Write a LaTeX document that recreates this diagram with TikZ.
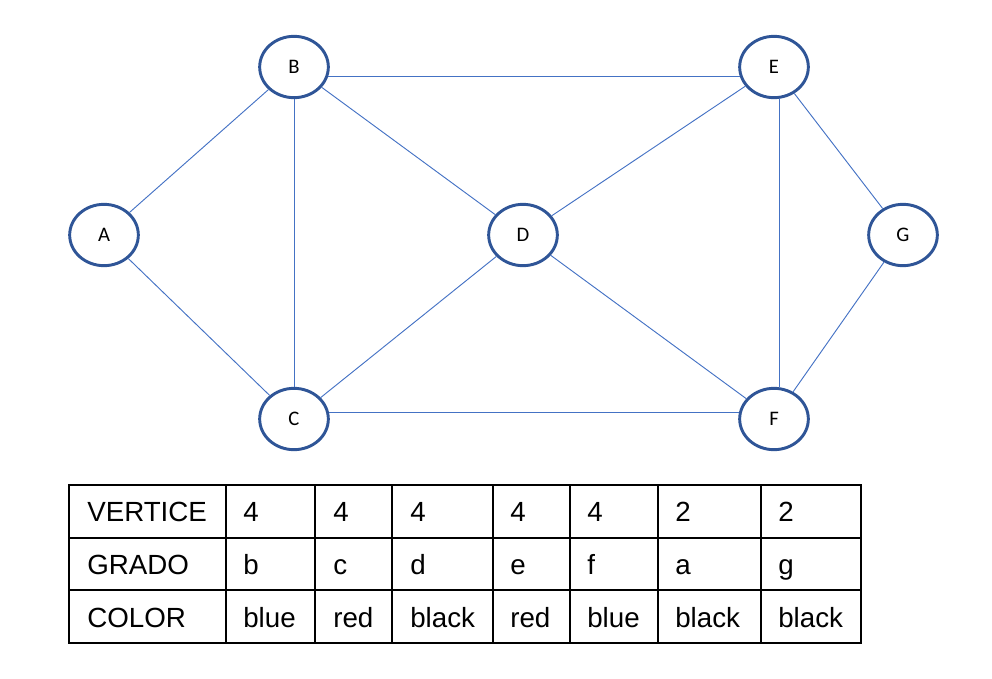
\documentclass[tikz,border=0pt]{standalone}
\usepackage{fontspec}
\setmainfont{Liberation Sans}
\newfontfamily\vertexfont{Carlito}
\usetikzlibrary{shapes.geometric}
\definecolor{vborder}{HTML}{2F5597}
\definecolor{edgeblue}{HTML}{4472C4}
\begin{document}
\begin{tikzpicture}[x=0.75pt,y=-0.75pt,
  vertex/.style={ellipse,draw=vborder,line width=2.2pt,fill=white,
    minimum width=51.5pt,minimum height=46pt,
    inner sep=0pt,font=\vertexfont\fontsize{15.5}{18}\selectfont},
  edge/.style={draw=edgeblue,line width=0.7pt},
  grid/.style={line width=1.5pt},
  cell/.style={anchor=base west,inner sep=0pt,font=\fontsize{20.8}{24}\selectfont}]
  \useasboundingbox (0,0) rectangle (992,678);

  % vertices
  \node[vertex] (A) at (104,235) {A};
  \node[vertex] (B) at (294,67) {B};
  \node[vertex] (C) at (294,419) {C};
  \node[vertex] (D) at (523,235) {D};
  \node[vertex] (E) at (774,67) {E};
  \node[vertex] (F) at (774,419) {F};
  \node[vertex] (G) at (903,235) {G};

  % edges
  \draw[edge] (A) -- (B);
  \draw[edge] (A) -- (C);
  \draw[edge] (B) -- (C);
  \draw[edge] (B) -- (D);
  \draw[edge] (B.-15) -- (E.195);
  \draw[edge] (C) -- (D);
  \draw[edge] (C.10) -- (F.170);
  \draw[edge] (D) -- (E);
  \draw[edge] (D) -- (F);
  \draw[edge] (E.-81) -- (F.81);
  \draw[edge] (E) -- (G);
  \draw[edge] (F) -- (G);

  % table grid
  \draw[grid] (69,485) rectangle (861,643);
  \foreach \yy in {538,590} \draw[grid] (69,\yy) -- (861,\yy);
  \foreach \xx in {226,315,392,493,570,658,761} \draw[grid] (\xx,485) -- (\xx,643);

  % table text
  \node[cell] (h1) at (87,521) {VERTICE};
  \node[cell] (h2) at (87,574) {GRADO};
  \node[cell] (h3) at (87,627) {COLOR};

  \node[cell] (v1) at (243,521) {4};
  \node[cell] (v2) at (333,521) {4};
  \node[cell] (v3) at (410,521) {4};
  \node[cell] (v4) at (510,521) {4};
  \node[cell] (v5) at (587,521) {4};
  \node[cell] (v6) at (675,521) {2};
  \node[cell] (v7) at (778,521) {2};

  \node[cell] (g1) at (243,574) {b};
  \node[cell] (g2) at (333,574) {c};
  \node[cell] (g3) at (410,574) {d};
  \node[cell] (g4) at (510,574) {e};
  \node[cell] (g5) at (587,574) {f};
  \node[cell] (g6) at (675,574) {a};
  \node[cell] (g7) at (778,574) {g};

  \node[cell] (c1) at (243,627) {blue};
  \node[cell] (c2) at (333,627) {red};
  \node[cell] (c3) at (410,627) {black};
  \node[cell] (c4) at (510,627) {red};
  \node[cell] (c5) at (587,627) {blue};
  \node[cell] (c6) at (675,627) {black};
  \node[cell] (c7) at (778,627) {black};
\end{tikzpicture}
\end{document}
